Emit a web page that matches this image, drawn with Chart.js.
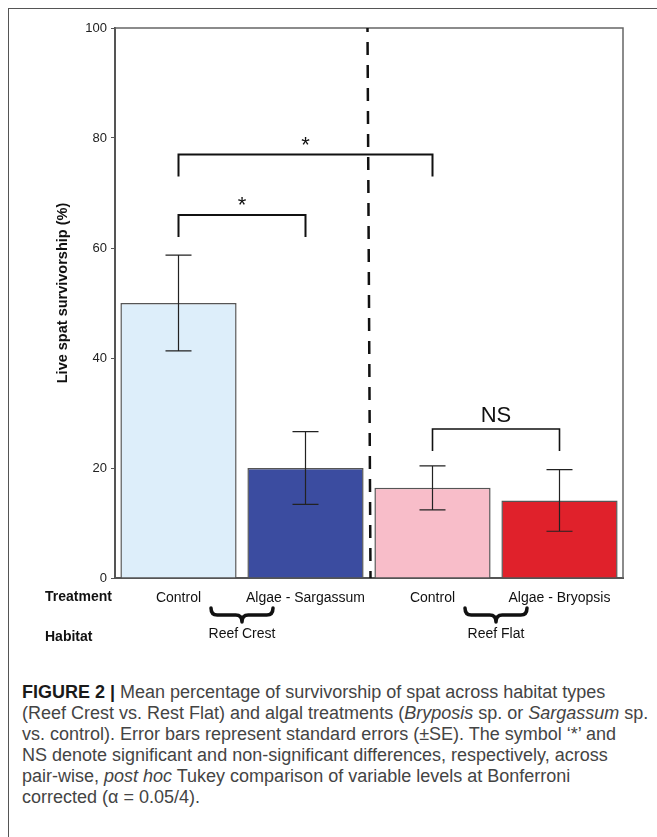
<!DOCTYPE html>
<html>
<head>
<meta charset="utf-8">
<script src="https://cdn.jsdelivr.net/npm/chart.js@4.4.1/dist/chart.umd.min.js"></script>
<style>
  html, body { margin: 0; padding: 0; background: #fff; }
  #page { position: relative; width: 657px; height: 837px; overflow: hidden; }
  #frame { position: absolute; left: 8px; top: 8px; width: 700px; height: 900px;
           border-top: 1.5px solid #555; border-left: 1.5px solid #555; }
  #chart_box { position: absolute; left: 0; top: 0; width: 657px; height: 660px; }
  #caption { position: absolute; left: 22px; top: 682px; white-space: nowrap;
             font-family: "Liberation Sans", Arial, sans-serif; font-size: 18px;
             line-height: 21px; color: #444; }
  #caption b { color: #1a1a1a; }
</style>
</head>
<body>
<div id="page">
  <div id="frame"></div>
  <div id="chart_box"><canvas id="graph_chart" width="657" height="660"></canvas></div>
  <div id="caption">
    <b>FIGURE 2 |</b> Mean percentage of survivorship of spat across habitat types<br>
    (Reef Crest vs. Rest Flat) and algal treatments (<i>Bryposis</i> sp. or <i>Sargassum</i> sp.<br>
    vs. control). Error bars represent standard errors (±SE). The symbol ‘*’ and<br>
    NS denote significant and non-significant differences, respectively, across<br>
    pair-wise, <i>post hoc</i> Tukey comparison of variable levels at Bonferroni<br>
    corrected (α = 0.05/4).
  </div>
</div>
<script>
// values
const categories = ['Control', 'Algae - Sargassum', 'Control', 'Algae - Bryopsis'];
const means = [50, 20, 16.4, 14.1];
const stdErr = [8.7, 6.6, 4.0, 5.6];
const yTicks = [0, 20, 40, 60, 80, 100];
const habitats = ['Reef Crest', 'Reef Flat'];
const habitatBars = [[0, 1], [2, 3]];
const comparisons = [
  {a: 0, b: 2, label: '*'},
  {a: 0, b: 1, label: '*'},
  {a: 2, b: 3, label: 'NS'}
];

// styling / layout
const barColors = ['#ddeefa', '#3b4ca0', '#f8bdc9', '#e0212b'];
const bracketLevels = [77, 66, 27.1];   // y (in %) of each bracket bar
const font = '"Liberation Sans", Arial, sans-serif';

function drawBrace(ctx, cx, y0, w, h) {
  const L = cx - w / 2, R = cx + w / 2, ym = y0 + h * 0.5, r = h * 0.45;
  ctx.beginPath();
  ctx.moveTo(L, y0);
  ctx.quadraticCurveTo(L, ym, L + r, ym);
  ctx.lineTo(cx - r, ym);
  ctx.quadraticCurveTo(cx, ym, cx, y0 + h);
  ctx.quadraticCurveTo(cx, ym, cx + r, ym);
  ctx.lineTo(R - r, ym);
  ctx.quadraticCurveTo(R, ym, R, y0);
  ctx.stroke();
}

const extras = {
  id: 'extras',
  afterDatasetsDraw(chart) {
    const {ctx, chartArea: area, scales: {x, y}} = chart;
    const meta = chart.getDatasetMeta(0);
    ctx.save();

    // box top + right
    ctx.strokeStyle = '#666';
    ctx.lineWidth = 1.5;
    ctx.beginPath();
    ctx.moveTo(area.left, area.top);
    ctx.lineTo(area.right, area.top);
    ctx.lineTo(area.right, area.bottom);
    ctx.stroke();

    // error bars
    ctx.strokeStyle = '#222';
    ctx.lineWidth = 1.2;
    meta.data.forEach((bar, i) => {
      const hi = y.getPixelForValue(means[i] + stdErr[i]);
      const lo = y.getPixelForValue(means[i] - stdErr[i]);
      ctx.beginPath();
      ctx.moveTo(bar.x, hi); ctx.lineTo(bar.x, lo);
      ctx.moveTo(bar.x - 13, hi); ctx.lineTo(bar.x + 13, hi);
      ctx.moveTo(bar.x - 13, lo); ctx.lineTo(bar.x + 13, lo);
      ctx.stroke();
    });

    // dashed habitat separator
    const mid = x.getPixelForValue(1.5);
    ctx.strokeStyle = '#111';
    ctx.lineWidth = 2.5;
    ctx.setLineDash([13, 10]);
    ctx.lineDashOffset = 9;
    ctx.beginPath();
    ctx.moveTo(mid - 1.5, area.top);
    ctx.lineTo(mid + 1.5, area.bottom);
    ctx.stroke();
    ctx.setLineDash([]);

    // significance brackets
    comparisons.forEach((c, k) => {
      const xa = meta.data[c.a].x, xb = meta.data[c.b].x;
      const yb = y.getPixelForValue(bracketLevels[k]);
      const drop = y.getPixelForValue(bracketLevels[k] - 4) - yb;
      ctx.strokeStyle = '#111';
      ctx.lineWidth = c.label === 'NS' ? 1.6 : 2;
      ctx.beginPath();
      ctx.moveTo(xa, yb + drop); ctx.lineTo(xa, yb);
      ctx.lineTo(xb, yb); ctx.lineTo(xb, yb + drop);
      ctx.stroke();
      ctx.fillStyle = '#111';
      ctx.textAlign = 'center';
      ctx.textBaseline = 'alphabetic';
      if (c.label === 'NS') {
        ctx.font = '22px ' + font;
        ctx.fillText(c.label, (xa + xb) / 2, yb - 7);
      } else {
        ctx.font = '22px ' + font;
        ctx.fillText(c.label, (xa + xb) / 2, yb - 3);
      }
    });
    ctx.restore();
  },
  afterDraw(chart) {
    const {ctx, chartArea: area} = chart;
    const meta = chart.getDatasetMeta(0);
    ctx.save();

    // y axis title
    ctx.fillStyle = '#111';
    ctx.font = 'bold 14.5px ' + font;
    ctx.textAlign = 'center';
    ctx.textBaseline = 'middle';
    ctx.translate(63, (area.top + area.bottom) / 2 - 10);
    ctx.rotate(-Math.PI / 2);
    ctx.fillText('Live spat survivorship (%)', 0, 0);
    ctx.restore();

    ctx.save();
    ctx.fillStyle = '#111';
    ctx.font = 'bold 14px ' + font;
    ctx.textAlign = 'left';
    ctx.textBaseline = 'middle';
    ctx.fillText('Treatment', 45, area.bottom + 19);
    ctx.fillText('Habitat', 45, area.bottom + 59);

    // habitat braces and names
    ctx.strokeStyle = '#111';
    ctx.lineWidth = 3.5;
    ctx.lineCap = 'round';
    ctx.lineJoin = 'round';
    ctx.font = '14px ' + font;
    ctx.textAlign = 'center';
    habitatBars.forEach((pair, i) => {
      const cx = (meta.data[pair[0]].x + meta.data[pair[1]].x) / 2;
      drawBrace(ctx, cx, area.bottom + 30, 62, 14);
      ctx.fillText(habitats[i], cx, area.bottom + 56);
    });
    ctx.restore();
  }
};

const chart = new Chart(document.getElementById('graph_chart'), {
  type: 'bar',
  data: {
    labels: categories,
    datasets: [{
      data: means,
      backgroundColor: barColors,
      borderColor: '#555',
      borderWidth: 1.5,
      barPercentage: 0.915,
      categoryPercentage: 1
    }]
  },
  options: {
    responsive: false,
    animation: false,
    layout: { padding: { left: 0, right: 34, top: 28, bottom: 0 } },
    plugins: { legend: { display: false }, tooltip: { enabled: false } },
    scales: {
      x: {
        afterFit: s => { s.height = 82; },
        grid: { display: true, drawOnChartArea: false, drawTicks: false },
        border: { display: true, color: '#555', width: 2 },
        ticks: { color: '#111', font: { family: font, size: 14 }, padding: 12 }
      },
      y: {
        min: 0, max: 100,
        afterFit: s => { s.width = 115; },
        afterBuildTicks: s => { s.ticks = yTicks.map(v => ({value: v})); },
        grid: { display: true, drawOnChartArea: false, tickLength: 4, color: '#555' },
        border: { display: true, color: '#555', width: 2 },
        ticks: { color: '#222', font: { family: font, size: 13 }, padding: 4 }
      }
    }
  },
  plugins: [extras]
});
</script>
</body>
</html>
